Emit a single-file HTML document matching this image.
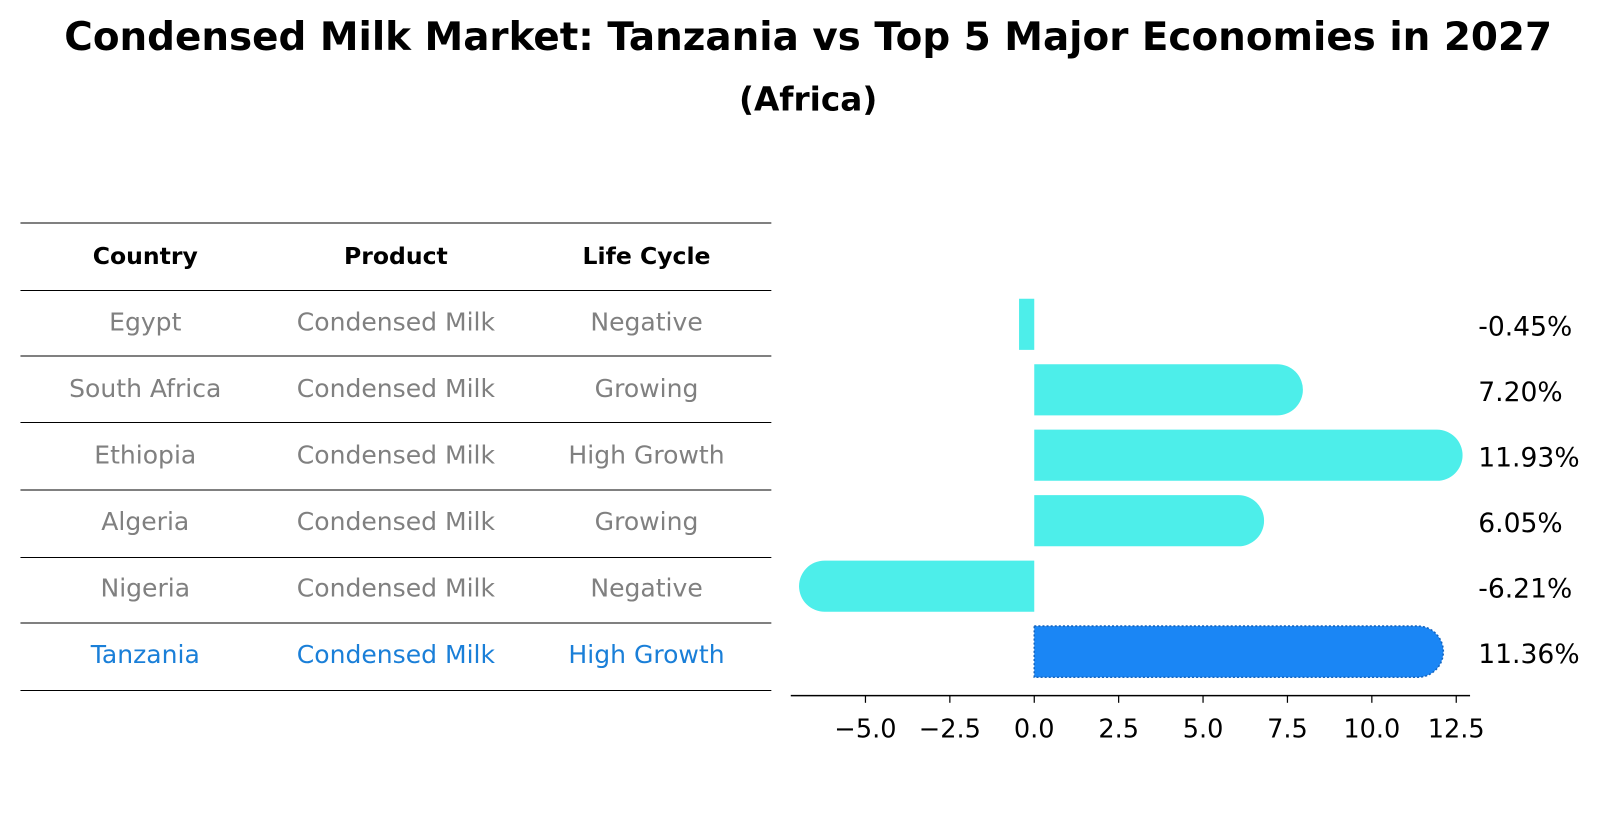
<!DOCTYPE html>
<html><head><meta charset="utf-8"><style>
body{margin:0;background:#fff;}
svg text{font-family:"DejaVu Sans","Liberation Sans",sans-serif;}
</style></head><body>
<svg id="chart" width="1604" height="823" viewBox="0 0 1604 823" xmlns="http://www.w3.org/2000/svg">
<g transform="scale(1.023)">
<text x="790" y="49" text-anchor="middle" font-size="38" font-weight="bold">Condensed Milk Market: Tanzania vs Top 5 Major Economies in 2027</text>
<text x="790" y="108" text-anchor="middle" font-size="32" font-weight="bold">(Africa)</text>
<g id="table"></g>
<g id="bars"></g>
</g>
</svg>
<script>
const countries = ["Egypt","South Africa","Ethiopia","Algeria","Nigeria","Tanzania"];
const products = ["Condensed Milk","Condensed Milk","Condensed Milk","Condensed Milk","Condensed Milk","Condensed Milk"];
const lifeCycles = ["Negative","Growing","High Growth","Growing","Negative","High Growth"];
const growth = [-0.45, 7.20, 11.93, 6.05, -6.21, 11.36];
const ticks = [-5.0, -2.5, 0.0, 2.5, 5.0, 7.5, 10.0, 12.5];

const NS = "http://www.w3.org/2000/svg";
function mk(tag, attrs, parent){const e=document.createElementNS(NS,tag);for(const k in attrs)e.setAttribute(k,attrs[k]);parent.appendChild(e);return e;}

const tg = document.getElementById('table');
const lineYs = [218,284,348,413,479,545,609,675];
lineYs.forEach(y=>{
  const l=mk('line',{x1:20,x2:754,y1:y,y2:y,stroke:'#000','stroke-width':1},tg);
  
  
});
const colX = [142,387,632];
["Country","Product","Life Cycle"].forEach((h,i)=>{
  const t=mk('text',{x:colX[i],y:258,'text-anchor':'middle','font-size':23,'font-weight':'bold'},tg);
  t.textContent=h;
  
  
});
countries.forEach((c,r)=>{
  const y = 323 + r*65;
  const col = r===countries.length-1 ? '#1a7fd8' : '#808080';
  [c, products[r], lifeCycles[r]].forEach((v,i)=>{
    const t=mk('text',{x:colX[i],y:y,'text-anchor':'middle','font-size':24.5,fill:col},tg);
    t.textContent=v;
    
    
  });
});

const bg = document.getElementById('bars');
const x0 = 1011, pxPerUnit = 33;
const xs = v => x0 + v*pxPerUnit;
const rowY = i => 317 + i*64;
const h = 50;
growth.forEach((v,i)=>{
  const last = i===growth.length-1;
  const fill = last ? '#1a86f5' : '#4deeea';
  const yc = rowY(i);
  const xa = Math.min(xs(0),xs(v)), xb = Math.max(xs(0),xs(v));
  let d;
  if (Math.abs(v) < 1) {
    d = `M${xa},${yc-h/2}H${xb}V${yc+h/2}H${xa}Z`;
  } else if (v > 0) {
    d = `M${xa},${yc-h/2}H${xb}A${h/2},${h/2} 0 0 1 ${xb},${yc+h/2}H${xa}Z`;
  } else {
    d = `M${xb},${yc-h/2}H${xa}A${h/2},${h/2} 0 0 0 ${xa},${yc+h/2}H${xb}Z`;
  }
  const p = mk('path',{d:d,fill:fill},bg);
  if (last){p.setAttribute('stroke','#1565c0');p.setAttribute('stroke-width','1.5');p.setAttribute('stroke-dasharray','2,2');}
  
  
  const t = mk('text',{x:1445,y:yc+11,'font-size':26},bg);
  t.textContent = v.toFixed(2)+'%';
  
  
});
const ax = mk('line',{x1:773,x2:1437,y1:680,y2:680,stroke:'#000','stroke-width':1.5},bg);


ticks.forEach(tv=>{
  const tl = mk('line',{x1:xs(tv),x2:xs(tv),y1:680,y2:687,stroke:'#000','stroke-width':1.2},bg);
  
  
  const t = mk('text',{x:xs(tv),y:721,'text-anchor':'middle','font-size':25},bg);
  t.textContent = (tv<0?'\u2212':'')+Math.abs(tv).toFixed(1);
  
  
});
</script>
</body></html>
